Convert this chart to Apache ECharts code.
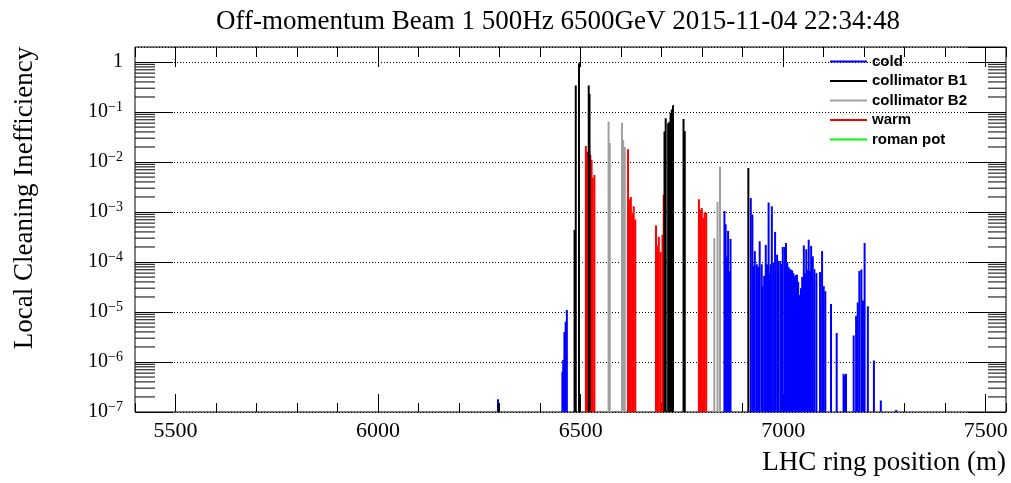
<!DOCTYPE html>
<html style="height: 100%">
  <head>
  <meta charset="utf-8">
    <script type="text/javascript" src="https://cdn.jsdelivr.net/npm/echarts@6/dist/echarts.min.js"></script>
  </head>
  <body style="width: 100%; height: 100%; margin: 0; background: #fff">
  <div id="main" style="width: 1011px; height: 483px;"></div>
 <script type="text/javascript">

// ring position (m) / local cleaning inefficiency
var coldPos = [6296, 6455, 6457, 6460, 6463, 6466, 6855, 6858, 6861, 6864, 6867, 6870,
    6920, 6924, 6927, 6930, 6935, 6938, 6942, 6947, 6949, 6953, 6957, 6960, 6964, 6966,
    6969, 6972, 6976, 6980, 6985, 6988, 6993, 6996, 6999, 7004, 7007, 7010, 7013, 7016,
    7019, 7022, 7025, 7028, 7031, 7034, 7037, 7041, 7044, 7047, 7051, 7054, 7057, 7060,
    7063, 7066, 7069, 7073, 7077, 7082, 7091, 7096, 7100, 7104, 7118, 7132, 7149, 7152,
    7155, 7174, 7180, 7184, 7188, 7193, 7197, 7201, 7209, 7224, 7241, 7279];
var coldVal = [1.8e-7, 6.4e-7, 1.1e-6, 4.0e-6, 6.4e-6, 1.1e-5, 1.05e-3, 5.7e-4, 1.3e-4, 4.2e-4, 6.6e-5, 2.9e-4,
    1.9e-3, 8.9e-4, 8.3e-5, 1.65e-4, 9e-5, 8e-5, 2.6e-4, 9e-5, 3.3e-5, 5.3e-5, 2.2e-4, 9e-5, 1.55e-3, 5.9e-5,
    9e-5, 1.3e-3, 9.8e-5, 4.0e-4, 1.4e-4, 1.05e-4, 1.05e-4, 9e-5, 2.0e-4, 2.0e-4, 2.4e-4, 1.0e-4, 8e-5, 7.3e-5,
    7e-5, 6.8e-5, 6e-5, 5.2e-5, 5.5e-5, 5.6e-5, 4e-5, 2.2e-5, 3e-5, 5e-5, 2.15e-4, 6e-5, 1.8e-4, 7e-5,
    2.8e-4, 6.6e-5, 2.1e-4, 1.3e-4, 7.2e-5, 6.0e-5, 6.3e-5, 1.65e-4, 3.3e-5, 2.6e-5, 1.45e-5, 3.8e-6, 5.8e-7, 5.4e-7,
    5.8e-7, 3.4e-6, 8.4e-6, 1.55e-5, 6.6e-5, 7.1e-5, 1.7e-5, 2.4e-4, 1.3e-5, 1.07e-6, 1.7e-7, 1.1e-7];

var collB1Pos = [6298, 6485, 6488, 6496, 6520, 6522, 6707, 6710, 6716, 6719, 6722, 6725, 6728, 6754, 6757, 6914];
var collB1Val = [1.5e-7, 4.4e-4, 0.34, 0.95, 0.34, 0.23, 0.041, 0.075, 0.06, 0.064, 0.096, 0.113, 0.137, 0.073, 0.042, 0.0076];

var collB2Pos = [6569, 6572, 6602, 6605, 6609, 6830, 6838, 6844];
var collB2Val = [0.065, 0.024, 0.061, 0.028, 0.020, 3.0e-4, 1.6e-3, 8.1e-3];

var warmPos = [6513, 6516, 6518, 6524, 6527, 6530, 6534, 6617, 6620, 6624, 6628, 6631, 6635,
    6686, 6690, 6693, 6697, 6702, 6705, 6792, 6795, 6799, 6803, 6806, 6810];
var warmVal = [0.021, 0.016, 0.015, 0.0138, 0.011, 0.0048, 0.0055, 0.018, 0.0018, 0.002, 9.5e-4, 1.3e-3, 7.1e-4,
    5.4e-4, 2.1e-4, 3.2e-4, 1.6e-4, 3.5e-4, 2.2e-3, 1.8e-3, 1.1e-3, 1.2e-3, 7.6e-4, 9.8e-4, 9.6e-4];

var romanPotPos = [];
var romanPotVal = [];

var legendNames = ['cold', 'collimator B1', 'collimator B2', 'warm', 'roman pot'];
var xMajorTicks = [5500, 6000, 6500, 7000, 7500];

var X_MIN = 5400, X_MAX = 7550, Y_MIN = 1e-7, Y_MAX = 2;
var SERIF = '"Liberation Serif", "DejaVu Serif", serif';

// log minor ticks 2..9 in every decade
var yMinorTicks = [];
for (var e = -7; e < 0; e++) {
    for (var k = 2; k <= 9; k++) {
        yMinorTicks.push([X_MIN, k * Math.pow(10, e)]);
    }
}

var zip = function(xs, ys) {
    return xs.map(function(x, i) { return [x, ys[i]]; });
}

var renderBin = function(params, api) {
    var top = api.coord([api.value(0), api.value(1)]);
    var base = api.coord([api.value(0), Y_MIN]);
    return {
        type: 'rect',
        shape: {x: top[0] - 1, y: top[1], width: 2, height: base[1] - top[1]},
        style: {fill: api.visual('color')}
    };
}

var renderMinorTick = function(params, api) {
    var l = api.coord([X_MIN, api.value(1)]);
    var r = api.coord([X_MAX, api.value(1)]);
    return {
        type: 'group',
        children: [
            {type: 'line', shape: {x1: l[0], y1: l[1], x2: l[0] + 20, y2: l[1]}, style: {stroke: '#000', lineWidth: 1}},
            {type: 'line', shape: {x1: r[0], y1: r[1], x2: r[0] - 18, y2: r[1]}, style: {stroke: '#000', lineWidth: 1}}
        ]
    };
}

var lossSeries = function(name, color, xs, ys) {
    return {
        name: name,
        type: 'custom',
        renderItem: renderBin,
        itemStyle: {color: color},
        data: zip(xs, ys)
    };
}

var xAxisBase = {
    type: 'value', min: X_MIN, max: X_MAX,
    axisLine: {show: false},
    splitLine: {show: false}
};

var myChart = echarts.init(document.getElementById('main'));
var option = {
    animation: false,
    backgroundColor: '#fff',
    title: {
        text: 'Off-momentum Beam 1 500Hz 6500GeV 2015-11-04 22:34:48',
        left: 211,
        top: 3,
        textStyle: {fontFamily: SERIF, fontSize: 27, fontWeight: 'normal', color: '#000'}
    },
    legend: {
        orient: 'vertical',
        left: 825,
        top: 49,
        itemWidth: 37,
        itemHeight: 2,
        itemGap: 4.5,
        icon: 'rect',
        data: legendNames,
        textStyle: {fontFamily: '"Liberation Sans", Arial, sans-serif', fontWeight: 'bold', fontSize: 15, color: '#000'}
    },
    grid: {
        left: 135, right: 5, top: 47, bottom: 71,
        show: true, borderColor: '#000', borderWidth: 1, backgroundColor: 'transparent'
    },
    xAxis: [
        Object.assign({}, xAxisBase, {
            position: 'bottom', interval: 100,
            axisTick: {inside: true, length: 9, lineStyle: {color: '#000'}},
            axisLabel: {show: false}
        }),
        Object.assign({}, xAxisBase, {
            position: 'bottom',
            axisTick: {inside: true, length: 18, customValues: xMajorTicks, lineStyle: {color: '#000'}},
            axisLabel: {
                customValues: xMajorTicks, fontFamily: SERIF, fontSize: 22, color: '#000', margin: 8,
                formatter: function(v) { return String(v); }
            }
        }),
        Object.assign({}, xAxisBase, {
            position: 'top', interval: 100,
            axisTick: {inside: true, length: 10, lineStyle: {color: '#000'}},
            axisLabel: {show: false}
        }),
        Object.assign({}, xAxisBase, {
            position: 'top',
            axisTick: {inside: true, length: 20, customValues: xMajorTicks, lineStyle: {color: '#000'}},
            axisLabel: {show: false}
        })
    ],
    yAxis: [
        {
            type: 'log', logBase: 10, min: Y_MIN, max: Y_MAX, position: 'left',
            axisLine: {show: false},
            axisTick: {inside: true, length: 38, lineStyle: {color: '#000'}},
            splitLine: {show: true, lineStyle: {color: '#000', type: [1, 2], width: 1}},
            axisLabel: {
                showMaxLabel: false,
                margin: 12,
                formatter: function(v) {
                    var e = Math.round(Math.log10(v));
                    return e === 0 ? '{b|1}' : '{b|10}{s|\u2212' + (-e) + '}';
                },
                rich: {
                    b: {fontFamily: SERIF, fontSize: 20, color: '#000'},
                    s: {fontFamily: SERIF, fontSize: 14, color: '#000', padding: [0, 0, 9, 0]}
                }
            }
        },
        {
            type: 'log', logBase: 10, min: Y_MIN, max: Y_MAX, position: 'right',
            axisLine: {show: false},
            axisTick: {inside: true, length: 38, lineStyle: {color: '#000'}},
            splitLine: {show: false},
            axisLabel: {show: false}
        }
    ],
    graphic: [
        {
            type: 'text', x: 25, y: 198, rotation: Math.PI / 2,
            style: {text: 'Local Cleaning Inefficiency', font: '27px ' + SERIF, fill: '#000', align: 'center', verticalAlign: 'middle'}
        },
        {
            type: 'text', x: 1006, y: 463,
            style: {text: 'LHC ring position (m)', font: '27px ' + SERIF, fill: '#000', align: 'right', verticalAlign: 'middle'}
        }
    ],
    series: [
        {
            name: 'yMinorTicks', type: 'custom', renderItem: renderMinorTick,
            data: yMinorTicks, silent: true
        },
        lossSeries('cold', '#0000ff', coldPos, coldVal),
        lossSeries('warm', '#ff0000', warmPos, warmVal),
        lossSeries('collimator B2', '#a0a0a0', collB2Pos, collB2Val),
        lossSeries('collimator B1', '#000000', collB1Pos, collB1Val),
        lossSeries('roman pot', '#00ff00', romanPotPos, romanPotVal)
    ]
};
myChart.setOption(option);

 </script>
  </body>
</html>
